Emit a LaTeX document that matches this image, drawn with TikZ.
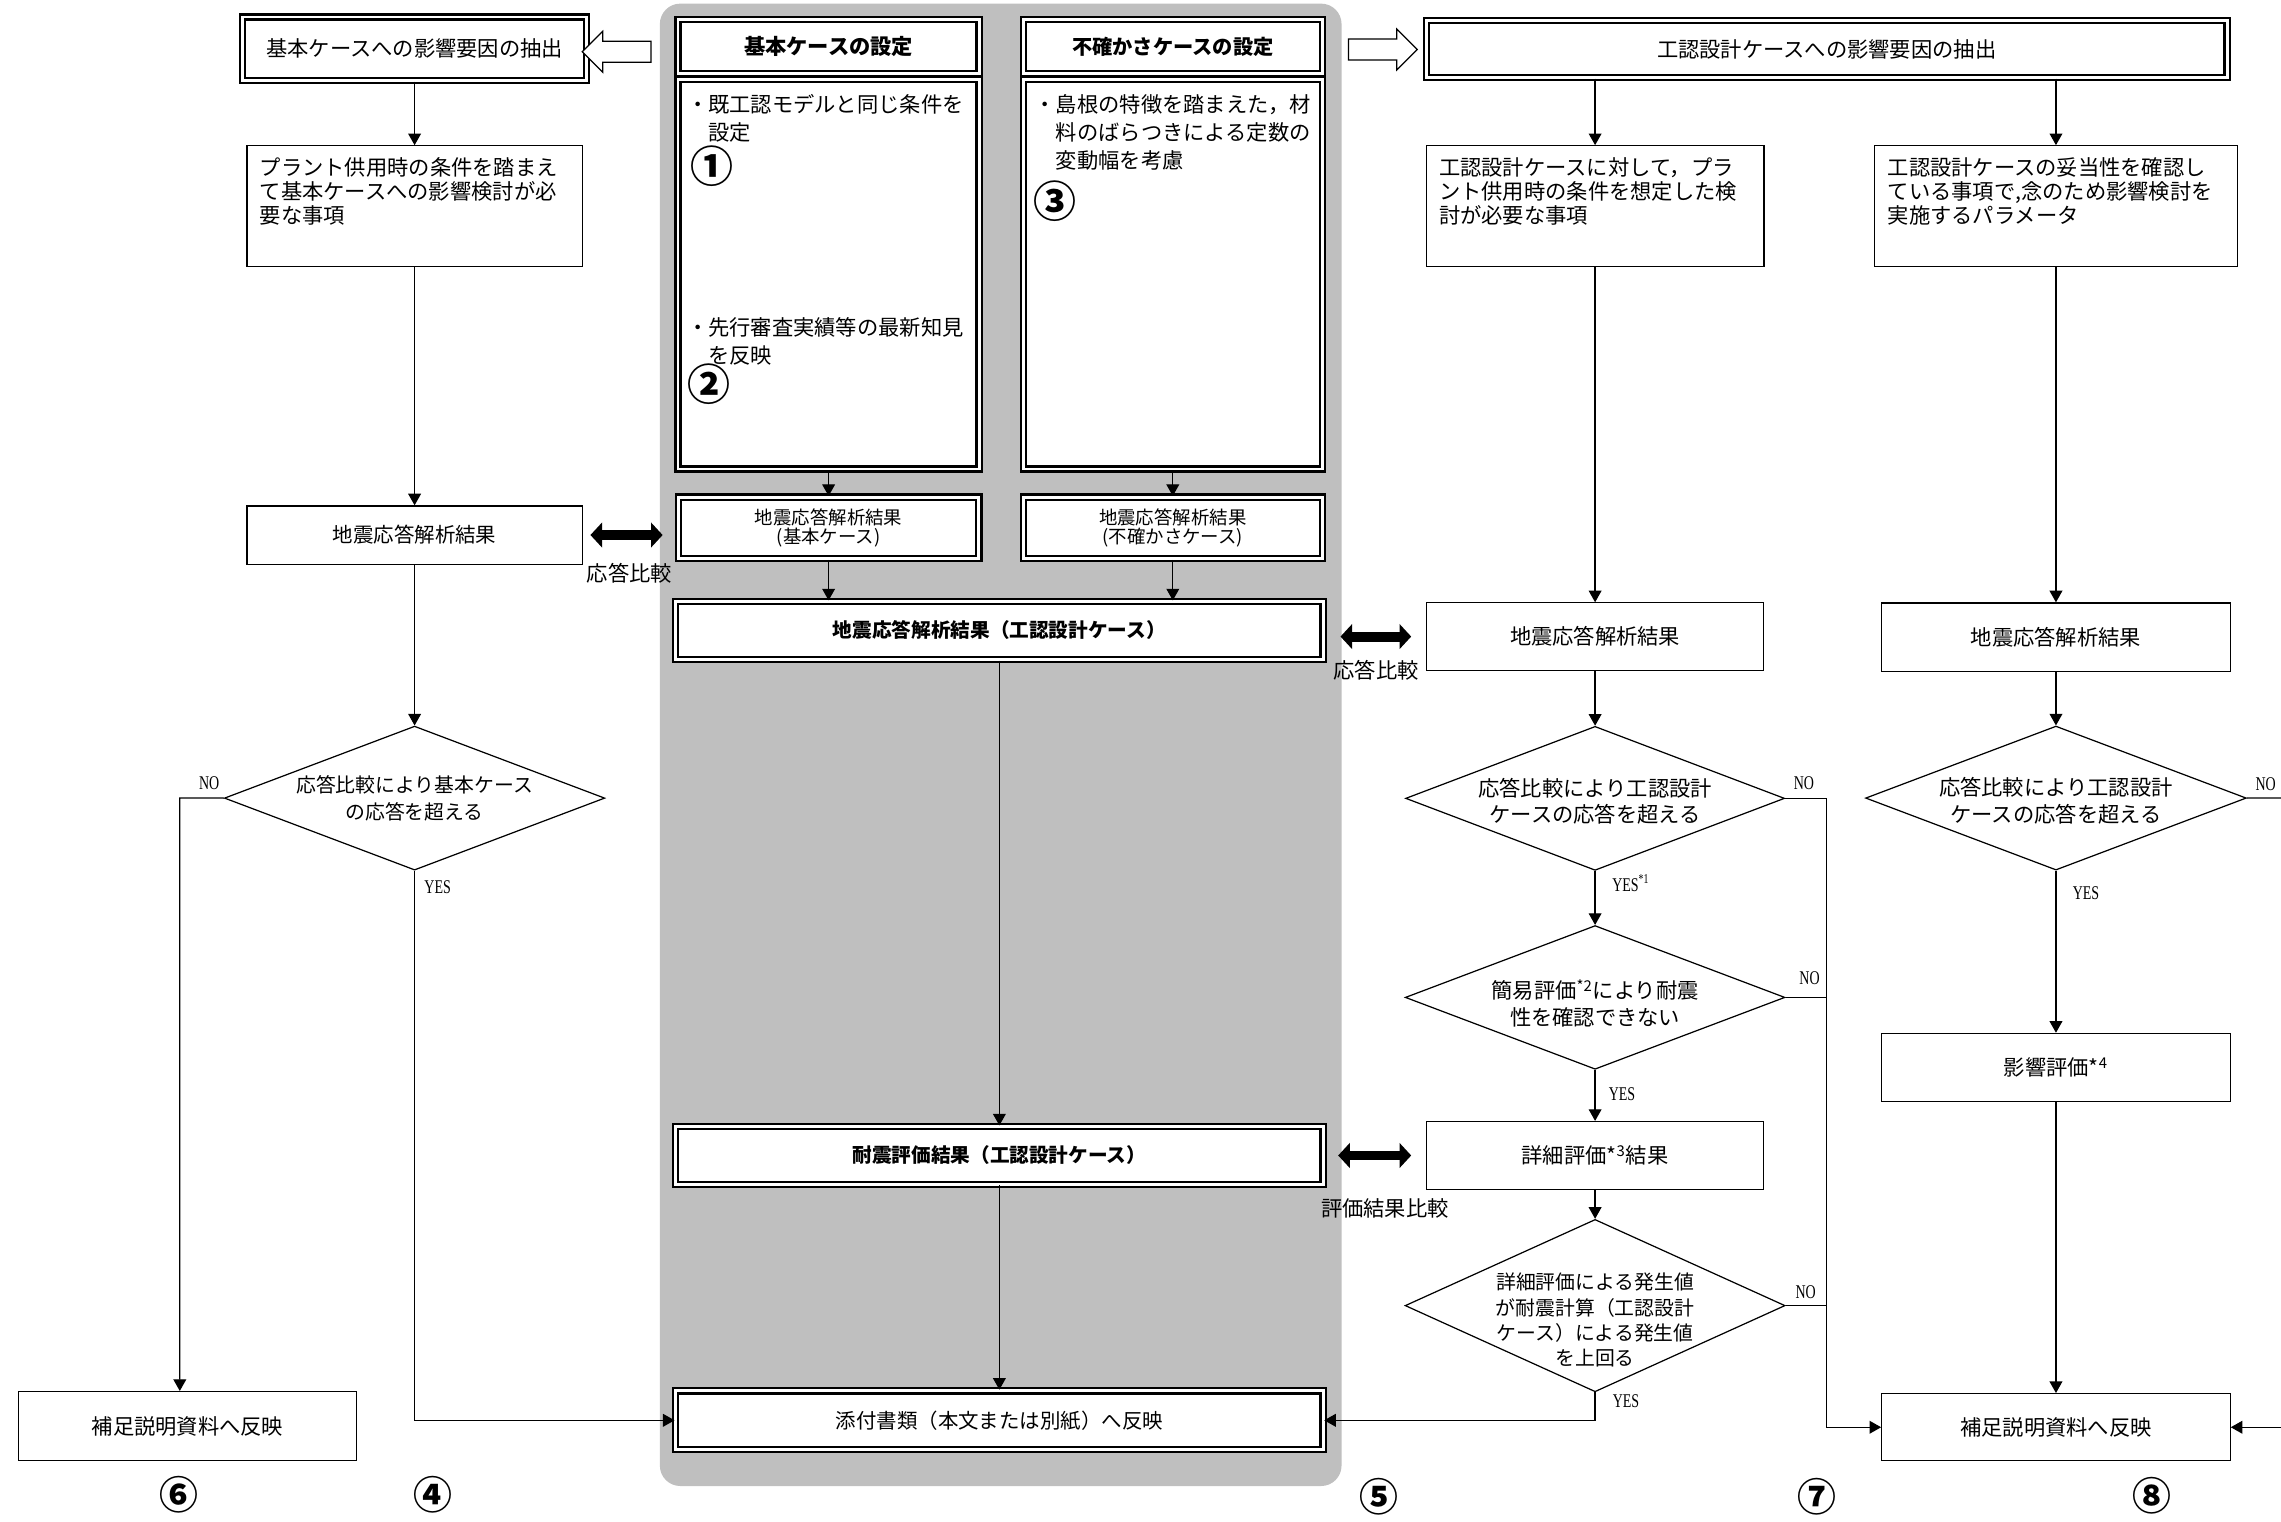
\documentclass[tikz,border=0pt]{standalone}
\usepackage{fontspec}
\setmainfont{Noto Sans CJK JP}
\newfontfamily\yesfont{Liberation Serif}[FakeStretch=0.72]
\usepackage{tikz}
\usetikzlibrary{arrows.meta}
\usetikzlibrary{shapes.geometric}
\usetikzlibrary{shapes.arrows}
\tikzset{sz/.style 2 args={minimum width=#1*0.025cm,minimum height=#2*0.025cm}}

\begin{document}
\begin{tikzpicture}[x=0.025cm,y=-0.025cm,
		box/.style={draw,line width=0.6pt,fill=white,inner sep=0pt,
			font=\fontsize{10.4}{12.5}\selectfont},
		dbox/.style={box,line width=1.1pt,double,double distance=1.4pt},
		headbox/.style={dbox,font=\bfseries\fontsize{10.4}{12.5}\selectfont},
		dia/.style={diamond,draw,line width=0.6pt,fill=white,inner sep=0pt},
		dlabel/.style={align=center,inner sep=0pt},
		note/.style={anchor=north west,align=left,inner sep=0pt},
		link/.style={line width=0.6pt},
		flow/.style={link,-{Triangle[length=0.2cm,width=0.22cm]}},
		cmp/.style={line width=0.17cm,
			{Triangle[length=0.2cm,width=0.42cm]}-{Triangle[length=0.2cm,width=0.42cm]}},
		cmplabel/.style={inner sep=0pt,font=\fontsize{10.4}{12.5}\selectfont},
		hollow/.style={single arrow,draw,line width=0.6pt,fill=white,inner sep=0pt,
			text height=0.34cm,text depth=0pt,text width=0pt,
			minimum height=1.18cm,single arrow head extend=0.17cm},
		yn/.style={anchor=west,inner sep=0pt,font=\yesfont\fontsize{9.5}{10}\selectfont},
		num/.style={inner sep=0pt,font=\bfseries\fontsize{19}{19}\selectfont}]
	
	\useasboundingbox (0,0) rectangle (1568,1046);
	
	\node[fill=gray!50,rounded corners=0.35cm,sz={468.6}{1019}] (panel) at (687.9,512) {};
	
	% left column
	\node[dbox,sz={236.5}{43.7}] (b1) at (285,33.5) {基本ケースへの影響要因の抽出};
	\node[box,sz={230.5}{83},node distance=2.705cm] (b2) [below of=b1] {};
	\node[box,sz={230.5}{40},node distance=5.65cm,font=\fontsize{10}{12}\selectfont] (b3) [below of=b2] {地震応答解析結果};
	\node[dia,sz={261.5}{99},node distance=4.52cm,
		label={[dlabel,font=\fontsize{9.7}{13.2}\selectfont]center:{応答比較により基本ケース\\の応答を超える}}] (d1) [below of=b3] {};
	\node[box,sz={232}{47.4}] (b4) at (128.9,980.3) {補足説明資料へ反映};
	\coordinate (nol) at (123.6,548.5);
	
	\node[note,font=\fontsize{10.4}{11.7}\selectfont] (b2t) at ([shift={(9,8.5)}]b2.north west)
		{プラント供用時の条件を踏まえ\\て基本ケースへの影響検討が必\\要な事項};
	
	% panel
	\node[headbox,sz={207}{37}] (p1h) at (569.6,32) {基本ケースの設定};
	\node[dbox,sz={207}{268},node distance=3.91cm] (p1c) [below of=p1h] {};
	\node[dbox,sz={206.6}{42.3},node distance=4.36cm,align=center,font=\fontsize{9}{9.1}\selectfont] (p3) [below of=p1c] {地震応答解析結果\\(基本ケース)};
	
	\node[headbox,sz={205.6}{37},font=\bfseries\fontsize{9.9}{12}\selectfont] (p2h) at (806.2,32) {不確かさケースの設定};
	\node[dbox,sz={205.6}{268},node distance=3.91cm] (p2c) [below of=p2h] {};
	\node[dbox,sz={205.6}{42.3},node distance=4.36cm,align=center,font=\fontsize{9}{9.1}\selectfont] (p4) [below of=p2c] {地震応答解析結果\\(不確かさケース)};
	
	\node[headbox,sz={445}{39.8},font=\bfseries\fontsize{9.6}{12}\selectfont] (p5) at (687,433.4) {地震応答解析結果（工認設計ケース）};
	\node[headbox,sz={445}{39.7},node distance=9.02cm,font=\bfseries\fontsize{9.6}{12}\selectfont] (p6) [below of=p5] {耐震評価結果（工認設計ケース）};
	\node[dbox,sz={445}{40.5},node distance=4.55cm,font=\fontsize{10}{12}\selectfont] (p7) [below of=p6] {添付書類（本文または別紙）へ反映};
	
	\node[note,font=\fontsize{10.4}{13.7}\selectfont] (p1t1) at (472,64.7) {・既工認モデルと同じ条件を\\\hspace*{1em}設定};
	\node[num,font=\bfseries\fontsize{21}{21}\selectfont] (n1) at (489.5,114) {①};
	\node[note,font=\fontsize{10.4}{13.7}\selectfont] (p1t2) at (472,218) {・先行審査実績等の最新知見\\\hspace*{1em}を反映};
	\node[num,font=\bfseries\fontsize{21}{21}\selectfont] (n2) at (487.5,264) {②};
	\node[note,font=\fontsize{10.4}{13.7}\selectfont] (p2t1) at (711,64.7) {・島根の特徴を踏まえた，材\\\hspace*{1em}料のばらつきによる定数の\\\hspace*{1em}変動幅を考慮};
	\node[num,font=\bfseries\fontsize{21}{21}\selectfont] (n3) at (725.4,138) {③};
	
	\node[hollow,shape border rotate=180] (ha1) at (427.5,35.6) {};
	\node[hollow] (ha2) at (947,34) {};
	
	% right columns
	\node[dbox,sz={550.5}{39}] (r1) at (1255.7,33.8) {工認設計ケースへの影響要因の抽出};
	
	\node[box,sz={232.2}{83}] (r2) at (1096.5,141.7) {};
	\node[box,sz={232}{46.3},node distance=7.395cm] (r3) [below of=r2] {地震応答解析結果};
	\node[dia,sz={260.5}{99},node distance=2.78cm,
		label={[dlabel,yshift=-0.05cm,font=\fontsize{10.4}{13.1}\selectfont]center:{応答比較により工認設計\\ケースの応答を超える}}] (d2) [below of=r3] {};
	\node[dia,sz={261}{98.8},node distance=3.42cm,
		label={[dlabel,yshift=-0.1cm,font=\fontsize{10.4}{13}\selectfont]center:{簡易評価\textsuperscript{*2}により耐震\\性を確認できない}}] (d3) [below of=d2] {};
	\node[box,sz={232}{46.6},node distance=2.715cm] (r4) [below of=d3] {詳細評価*\textsuperscript{3}結果};
	\node[dia,sz={261.2}{118.5},node distance=2.58cm,
		label={[dlabel,yshift=-0.25cm,font=\fontsize{9.7}{12.4}\selectfont]center:{詳細評価による発生値\\が耐震計算（工認設計\\ケース）による発生値\\を上回る}}] (d4) [below of=r4] {};
	\coordinate (nor) at (1255.3,0);
	
	\node[note,font=\fontsize{10.4}{11.7}\selectfont] (r2t) at ([shift={(9,8.5)}]r2.north west)
		{工認設計ケースに対して，プラ\\ント供用時の条件を想定した検\\討が必要な事項};
	
	\node[box,sz={250}{83}] (r2b) at (1413.3,141.7) {};
	\node[box,sz={239.5}{47},node distance=7.405cm] (r3b) [below of=r2b] {地震応答解析結果};
	\node[dia,sz={261.7}{99},node distance=2.765cm,
		label={[dlabel,yshift=-0.05cm,font=\fontsize{10.4}{13.2}\selectfont]center:{応答比較により工認設計\\ケースの応答を超える}}] (d5) [below of=r3b] {};
	\node[box,sz={239.5}{46.6},node distance=4.625cm] (r5) [below of=d5] {影響評価*\textsuperscript{4}};
	\node[box,sz={239.5}{46.2},node distance=6.185cm] (r6) [below of=r5] {補足説明資料へ反映};
	\coordinate (offr) at (1600,548.5);
	
	\node[note,font=\fontsize{10.4}{11.7}\selectfont] (r2bt) at ([shift={(9.5,8.5)}]r2b.north west)
		{工認設計ケースの妥当性を確認し\\ている事項で,念のため影響検討を\\実施するパラメータ};
	
	% connectors
	\draw[flow] (b1) -- (b2);
	\draw[flow] (b2) -- (b3);
	\draw[flow] (b3) -- (d1);
	\draw[flow] (d1.west) -- (nol) -- (nol |- b4.north);
	\draw[flow] (d1.south) |- (p7.west);
	
	\draw[flow] (p1c) -- (p3);
	\draw[flow] (p2c) -- (p4);
	\draw[flow] (p3.south) -- (p3.south |- p5.north);
	\draw[flow] (p4.south) -- (p4.south |- p5.north);
	\draw[flow] (p5.south) -- (p5.south |- p6.north);
	\draw[flow] (p6.south) -- (p6.south |- p7.north);
	
	\draw[flow] (r2.north |- r1.south) -- (r2.north);
	\draw[flow] (r2b.north |- r1.south) -- (r2b.north);
	\draw[flow] (r2) -- (r3);
	\draw[flow] (r3) -- (d2);
	\draw[flow] (d2) -- (d3);
	\draw[flow] (d3) -- (r4);
	\draw[flow] (r4) -- (d4);
	\draw[flow] (d4.south) |- (p7.east);
	\draw[flow] (d2.east) -- (nor |- d2.east) |- (r6.west);
	\draw[link] (d3.east) -- (nor |- d3.east);
	\draw[link] (d4.east) -- (nor |- d4.east);
	
	\draw[flow] (r2b) -- (r3b);
	\draw[flow] (r3b) -- (d5);
	\draw[flow] (d5) -- (r5);
	\draw[flow] (r5) -- (r6);
	\draw[link] (d5.east) -- (offr);
	\draw[flow] (offr |- r6.east) -- (r6.east);
	
	\draw[cmp,shorten <=0.13cm,shorten >=0.25cm] (b3.east) -- (b3.east -| p3.west);
	\draw[cmp,shorten <=0.28cm,shorten >=0.25cm] (p5.east |- r3.west) -- (r3.west);
	\draw[cmp,shorten <=0.24cm,shorten >=0.25cm] (p6.east) -- (p6.east -| r4.west);
	
	\node[cmplabel] (c1) at (432.7,393.8) {応答比較};
	\node[cmplabel] (c2) at (946,460.6) {応答比較};
	\node[cmplabel] (c3) at (952,830.5) {評価結果比較};
	
	\node[yn] (no1) at (136.6,538.3) {NO};
	\node[yn] (yes1) at (291.5,609.8) {YES};
	\node[yn] (no2) at (1232.8,538.5) {NO};
	\node[yn] (yes2) at (1108,607) {YES\textsuperscript{*1}};
	\node[yn] (no3) at (1236.7,672.4) {NO};
	\node[yn] (yes3) at (1105.6,752) {YES};
	\node[yn] (no4) at (1234,888) {NO};
	\node[yn] (yes4) at (1108.4,963.5) {YES};
	\node[yn] (no5) at (1550.2,539) {NO};
	\node[yn] (yes5) at (1424.6,614) {YES};
	
	\node[num] (n6) at (122.8,1027.7) {⑥};
	\node[num] (n4) at (297.7,1027.7) {④};
	\node[num] (n5) at (948,1028.8) {⑤};
	\node[num] (n7) at (1248.8,1028.9) {⑦};
	\node[num] (n8) at (1479,1028) {⑧};
	
\end{tikzpicture}
\end{document}
